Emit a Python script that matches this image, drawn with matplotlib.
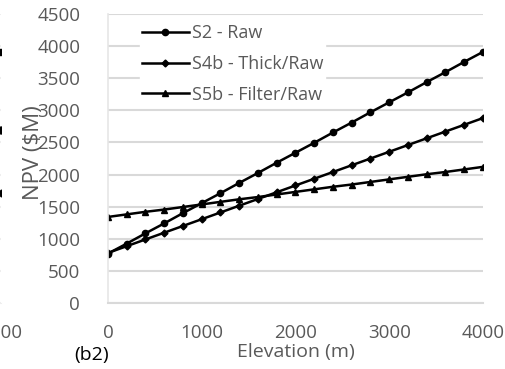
import matplotlib.pyplot as plt

# elevation (m), one point every 200 m
elev = [0, 200, 400, 600, 800, 1000, 1200, 1400, 1600, 1800, 2000,
        2200, 2400, 2600, 2800, 3000, 3200, 3400, 3600, 3800, 4000]

# NPV ($M)
s2_raw = [770, 925, 1085, 1240, 1400, 1555, 1710, 1870, 2025, 2185, 2340,
          2495, 2655, 2810, 2970, 3125, 3280, 3440, 3595, 3755, 3910]
s4b_thick = [780, 885, 990, 1095, 1200, 1305, 1410, 1515, 1620, 1725, 1830,
             1935, 2040, 2145, 2250, 2355, 2460, 2565, 2670, 2775, 2880]
s5b_filter = [1340, 1380, 1420, 1455, 1495, 1535, 1575, 1615, 1650, 1690, 1730,
              1770, 1810, 1845, 1885, 1925, 1965, 2005, 2040, 2080, 2120]

# cut-off neighbouring panel (b1): only its right end is visible
b1_elev = [3800, 4000]
b1_a = [3760, 3910]
b1_b = [2600, 2695]
b1_c = [1650, 1713]

xticks = [0, 1000, 2000, 3000, 4000]
yticks = [0, 500, 1000, 1500, 2000, 2500, 3000, 3500, 4000, 4500]

plt.rcParams['font.family'] = ['Open Sans', 'DejaVu Sans']
grey = '#595959'
grid = '#d9d9d9'
fs = 13.5

fig = plt.figure(figsize=(5.06, 3.69), dpi=100)

# main panel (b2)
ax = fig.add_axes([108 / 506, 1 - 303 / 369, 375 / 506, 289 / 369])
ax.plot(elev, s2_raw, color='black', lw=1.8, marker='o', ms=4.5, label='S2 - Raw')
ax.plot(elev, s4b_thick, color='black', lw=1.8, marker='D', ms=3.5, label='S4b - Thick/Raw')
ax.plot(elev, s5b_filter, color='black', lw=1.8, marker='^', ms=4, label='S5b - Filter/Raw')

ax.set_xlim(0, 4000)
ax.set_ylim(0, 4500)
ax.set_xticks(xticks)
ax.set_yticks(yticks)
ax.tick_params(length=0, labelsize=fs, labelcolor=grey)
ax.tick_params(axis='y', pad=20)
ax.tick_params(axis='x', pad=15)
ax.grid(axis='y', color=grid, lw=1.5)
ax.set_axisbelow(True)
for side in ['top', 'right']:
    ax.spines[side].set_visible(False)
ax.spines['bottom'].set_color(grid)
ax.spines['bottom'].set_linewidth(1.5)
ax.spines['left'].set_color('#e6e6e6')
ax.spines['left'].set_linewidth(1.2)

ax.set_xlabel('Elevation (m)', fontsize=14, color=grey, labelpad=1)
ax.set_ylabel('NPV ($M)', fontsize=16, color=grey)
ax.yaxis.set_label_coords(-0.17, 0.52)

leg = ax.legend(loc='upper left', bbox_to_anchor=(0.085, 0.97), frameon=True,
                fontsize=13, handlelength=2.6, handletextpad=0.17,
                labelspacing=0.7, borderpad=0.1, borderaxespad=0)
leg.get_frame().set_edgecolor('white')
leg.get_frame().set_facecolor('white')
leg.get_frame().set_alpha(1)
leg.get_frame().set_boxstyle('square', pad=0)
for t in leg.get_texts():
    t.set_color(grey)

fig.text(92 / 506, 1 - 355 / 369, '(b2)', fontsize=14, color='black',
         ha='center', va='center')

# neighbouring panel, mostly off the figure
axl = fig.add_axes([(1 - 375) / 506, 1 - 303 / 369, 375 / 506, 289 / 369])
axl.plot(b1_elev, b1_a, color='black', lw=1.8, marker='s', ms=5)
axl.plot(b1_elev, b1_b, color='black', lw=1.8, marker='o', ms=5)
axl.plot(b1_elev, b1_c, color='black', lw=1.8, marker='D', ms=3.5)
axl.set_xlim(0, 4000)
axl.set_ylim(0, 4500)
axl.set_xticks(xticks)
axl.set_yticks(yticks)
axl.set_yticklabels([])
axl.tick_params(length=0, labelsize=fs, labelcolor=grey, pad=15)
axl.grid(axis='y', color='#eeeeee', lw=1.5)
for side in ['top', 'right', 'left']:
    axl.spines[side].set_visible(False)
axl.spines['bottom'].set_color('#eeeeee')

fig.savefig('out.png', dpi=100)
